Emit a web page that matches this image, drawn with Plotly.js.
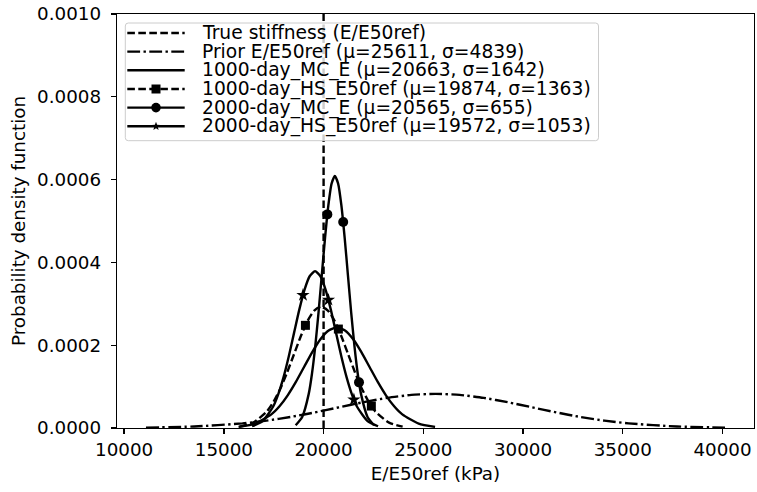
<!DOCTYPE html>
<html>
<head>
<meta charset="utf-8">
<script src="https://cdn.plot.ly/plotly-3.0.1.min.js"></script>
<style>html,body{margin:0;padding:0;background:#fff;}#chart{width:757px;height:492px;}</style>
</head>
<body>
<div id="chart"></div>
<script>
// ---- data ----
const trueStiffness = 20000;

const xPrior = [11094, 13514, 15933, 17143, 18353, 19562, 20772, 21982, 23192, 24401, 25611, 26821, 28031, 29240, 30450, 31660, 32870, 34079, 35289, 37709, 40128];
const yPrior = [9.16e-7, 3.62e-6, 1.115e-5, 1.783e-5, 2.677e-5, 3.774e-5, 5.000e-5, 6.222e-5, 7.275e-5, 7.990e-5, 8.244e-5, 7.990e-5, 7.275e-5, 6.222e-5, 5.000e-5, 3.774e-5, 2.677e-5, 1.783e-5, 1.115e-5, 3.62e-6, 9.16e-7];

const xMC1000 = [15737, 16558, 17379, 17790, 18200, 18611, 19021, 19432, 19842, 20253, 20663, 21074, 21484, 21895, 22305, 22716, 23126, 23537, 23947, 24768, 25589];
const yMC1000 = [2.699e-6, 1.0676e-5, 3.287e-5, 5.255e-5, 7.889e-5, 1.1123e-4, 1.4736e-4, 1.8339e-4, 2.1441e-4, 2.3548e-4, 2.4296e-4, 2.3548e-4, 2.1441e-4, 1.8339e-4, 1.4736e-4, 1.1123e-4, 7.889e-5, 5.255e-5, 3.287e-5, 1.0676e-5, 2.699e-6];

const xHS1000 = [15785, 16467, 17148, 17489, 17830, 18170, 18511, 18852, 19193, 19533, 19874, 20215, 20556, 20896, 21237, 21578, 21919, 22259, 22600, 23282, 23963];
const yHS1000 = [3.252e-6, 1.2861e-5, 3.960e-5, 6.331e-5, 9.504e-5, 1.3400e-4, 1.7752e-4, 2.2093e-4, 2.5831e-4, 2.8368e-4, 2.9270e-4, 2.8368e-4, 2.5831e-4, 2.2093e-4, 1.7752e-4, 1.3400e-4, 9.504e-5, 6.331e-5, 3.960e-5, 1.2861e-5, 3.252e-6];
const xHS1000Marks = [19089, 20741, 22394];
const yHS1000Marks = [2.480e-4, 2.390e-4, 5.30e-5];

const xMC2000 = [18600, 18928, 19255, 19419, 19583, 19746, 19910, 20074, 20238, 20401, 20565, 20729, 20893, 21056, 21220, 21384, 21548, 21711, 21875, 22203, 22530];
const yMC2000 = [6.767e-6, 2.6763e-5, 8.241e-5, 1.3174e-4, 1.9777e-4, 2.7883e-4, 3.6940e-4, 4.5973e-4, 5.3750e-4, 5.9031e-4, 6.0907e-4, 5.9031e-4, 5.3750e-4, 4.5973e-4, 3.6940e-4, 2.7883e-4, 1.9777e-4, 1.3174e-4, 8.241e-5, 2.6763e-5, 6.767e-6];
const xMC2000Marks = [20188, 20982, 21776];
const yMC2000Marks = [5.160e-4, 4.974e-4, 1.103e-4];

const xHS2000 = [16413, 16940, 17466, 17729, 17993, 18256, 18519, 18782, 19046, 19309, 19572, 19835, 20099, 20362, 20625, 20888, 21152, 21415, 21678, 22205, 22731];
const yHS2000 = [4.209e-6, 1.6647e-5, 5.126e-5, 8.195e-5, 1.2302e-4, 1.7344e-4, 2.2978e-4, 2.8596e-4, 3.3434e-4, 3.6719e-4, 3.7886e-4, 3.6719e-4, 3.3434e-4, 2.8596e-4, 2.2978e-4, 1.7344e-4, 1.2302e-4, 8.195e-5, 5.126e-5, 1.6647e-5, 4.209e-6];
const xHS2000Marks = [18966, 20242, 21519];
const yHS2000Marks = [3.210e-4, 3.094e-4, 6.861e-5];

const legendLabels = [
  'True stiffness (E/E50ref)',
  'Prior E/E50ref (μ=25611, σ=4839)',
  '1000-day_MC_E (μ=20663, σ=1642)',
  '1000-day_HS_E50ref (μ=19874, σ=1363)',
  '2000-day_MC_E (μ=20565, σ=655)',
  '2000-day_HS_E50ref (μ=19572, σ=1053)'
];
const xTitle = 'E/E50ref (kPa)';
const yTitle = 'Probability density function';

// ---- styles ----
const FONT = 'DejaVu Sans, sans-serif';
const FS = 18.3;
const LFS = 18.7;
const LW = 2.4;
const DASH = '7.6px,3.4px';
const DASHDOT = '12.8px,3.4px,2.4px,3.4px';

function lineTrace(x, y, dash) {
  return {x: x, y: y, type: 'scatter', mode: 'lines', showlegend: false, hoverinfo: 'skip',
          line: {color: 'black', width: LW, dash: dash, shape: 'spline', smoothing: 0.6}};
}
function markTrace(x, y, symbol, size) {
  return {x: x, y: y, type: 'scatter', mode: 'markers', showlegend: false, hoverinfo: 'skip',
          marker: {color: 'black', symbol: symbol, size: size, line: {width: 0}}};
}

const traces = [
  lineTrace(xPrior, yPrior, DASHDOT),
  lineTrace(xMC1000, yMC1000, 'solid'),
  lineTrace(xHS1000, yHS1000, DASH),
  markTrace(xHS1000Marks, yHS1000Marks, 'square', 9),
  lineTrace(xMC2000, yMC2000, 'solid'),
  markTrace(xMC2000Marks, yMC2000Marks, 'circle', 10),
  lineTrace(xHS2000, yHS2000, 'solid'),
  markTrace(xHS2000Marks, yHS2000Marks, 'star', 10)
];

// ---- hand-built legend (matplotlib-like, tight rows) ----
const PL = 117, PT = 14, PW = 637, PH = 414;
const px = v => (v - PL) / PW;
const py = v => (PT + PH - v) / PH;

const shapes = [
  {type: 'line', xref: 'x', yref: 'paper', x0: trueStiffness, x1: trueStiffness, y0: 0, y1: 1,
   layer: 'below', line: {color: 'black', width: LW, dash: DASH}}
];

// legend frame with rounded corners
(function () {
  const x0 = px(125.3), x1 = px(598.5), y0 = py(140.7), y1 = py(23);
  const rx = 3 / PW, ry = 3 / PH;
  const p = `M${x0 + rx},${y0} L${x1 - rx},${y0} Q${x1},${y0} ${x1},${y0 + ry} L${x1},${y1 - ry} Q${x1},${y1} ${x1 - rx},${y1} L${x0 + rx},${y1} Q${x0},${y1} ${x0},${y1 - ry} L${x0},${y0 + ry} Q${x0},${y0} ${x0 + rx},${y0} Z`;
  shapes.push({type: 'path', xref: 'paper', yref: 'paper', path: p, layer: 'above',
               fillcolor: 'rgba(255,255,255,0.8)', line: {color: '#cccccc', width: 1}});
})();

const rowY = [33, 51.6, 70.3, 89, 107.6, 126.3];
const handleDash = ['dash', 'dashdot', 'solid', 'dash', 'solid', 'solid'];
const hx0 = px(127.3), hx1 = px(184.7), hxm = px(156);
const annotations = [];
rowY.forEach((ry, i) => {
  const d = handleDash[i] === 'dash' ? DASH : handleDash[i] === 'dashdot' ? DASHDOT : 'solid';
  shapes.push({type: 'line', xref: 'paper', yref: 'paper', x0: hx0, x1: hx1, y0: py(ry), y1: py(ry),
               layer: 'above', line: {color: 'black', width: LW, dash: d}});
  annotations.push({xref: 'paper', yref: 'paper', x: px(199.7), y: py(ry), xanchor: 'left', yanchor: 'middle',
                    showarrow: false, text: legendLabels[i], font: {family: FONT, size: LFS, color: 'black'}});
});
// legend markers
const sq = 4.5, rc = 4.8;
shapes.push({type: 'rect', xref: 'paper', yref: 'paper', xsizemode: 'pixel', ysizemode: 'pixel',
             xanchor: hxm, yanchor: py(rowY[3]), x0: -sq, x1: sq, y0: -sq, y1: sq,
             layer: 'above', fillcolor: 'black', line: {width: 0}});
shapes.push({type: 'circle', xref: 'paper', yref: 'paper', xsizemode: 'pixel', ysizemode: 'pixel',
             xanchor: hxm, yanchor: py(rowY[4]), x0: -rc, x1: rc, y0: -rc, y1: rc,
             layer: 'above', fillcolor: 'black', line: {width: 0}});
shapes.push({type: 'path', xref: 'paper', yref: 'paper', xsizemode: 'pixel', ysizemode: 'pixel',
             xanchor: hxm, yanchor: py(rowY[5]),
             path: 'M0,4.5 L-1.117,1.537 L-4.28,1.39 L-1.807,-0.587 L-2.645,-3.64 L0,-1.9 L2.645,-3.64 L1.807,-0.587 L4.28,1.39 L1.117,1.537 Z',
             layer: 'above', fillcolor: 'black', line: {width: 0}});

const axisCommon = {
  showline: true, mirror: true, linecolor: 'black', linewidth: 1.3,
  ticks: 'outside', ticklen: 5, tickwidth: 1.3, tickcolor: 'black',
  showgrid: false, zeroline: false, automargin: false,
  tickfont: {family: FONT, size: FS, color: 'black'}
};

const layout = {
  width: 757, height: 492,
  margin: {l: PL, r: 757 - PL - PW, t: PT, b: 492 - PT - PH, pad: 0},
  paper_bgcolor: 'white', plot_bgcolor: 'white',
  font: {family: FONT, size: FS, color: 'black'},
  showlegend: false,
  xaxis: Object.assign({}, axisCommon, {
    range: [9642, 41580], tick0: 10000, dtick: 5000, tickformat: 'd',
    title: {text: xTitle, font: {family: FONT, size: FS, color: 'black'}, standoff: 8}
  }),
  yaxis: Object.assign({}, axisCommon, {
    range: [0, 0.001], tick0: 0, dtick: 0.0002, tickformat: '.4f', ticklabelstandoff: 6,
    title: {text: yTitle, font: {family: FONT, size: FS, color: 'black'}, standoff: 6}
  }),
  shapes: shapes,
  annotations: annotations
};

Plotly.newPlot('chart', traces, layout, {displayModeBar: false, staticPlot: true});
</script>
</body>
</html>
